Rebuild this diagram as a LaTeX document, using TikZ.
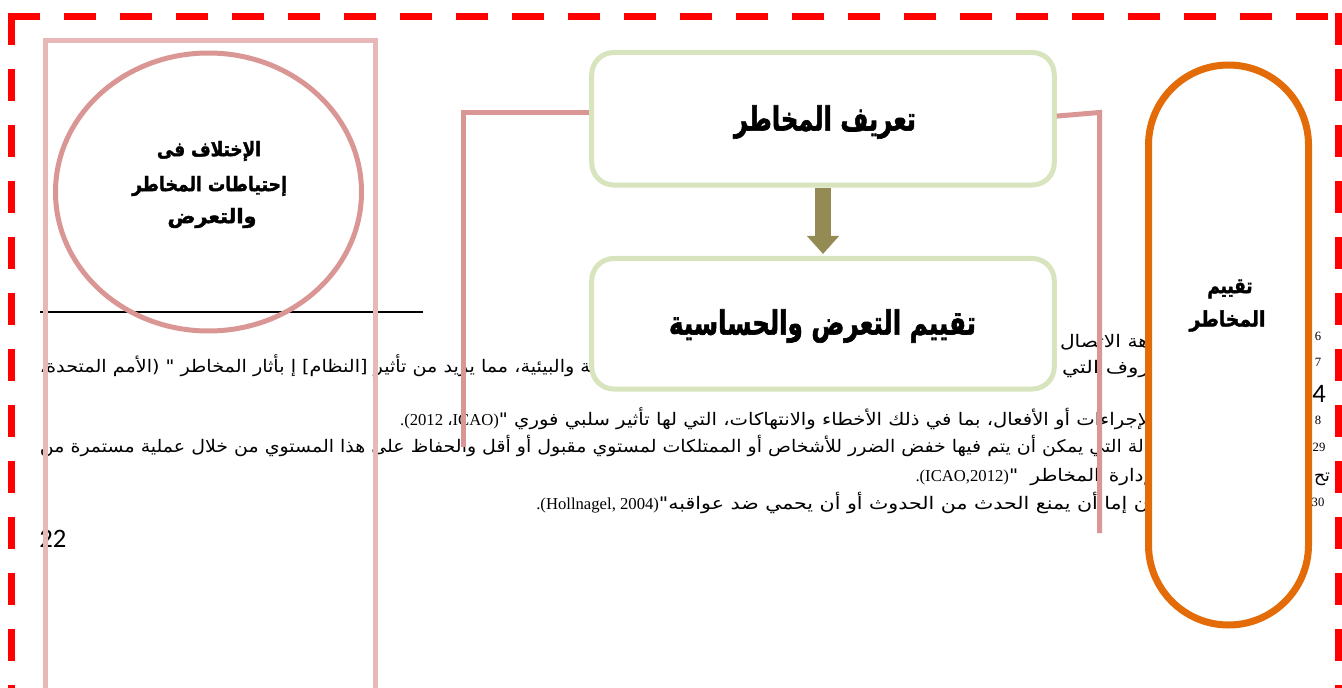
\documentclass[tikz,border=0pt]{standalone}
\usepackage{fontspec}
\usepackage{graphicx}
\usetikzlibrary{shapes.geometric,arrows.meta}
\TeXXeTstate=1
\newfontfamily\arabicfont[Script=Arabic]{DejaVu Sans}
\newfontfamily\arabicheavy[Script=Arabic,BoldFeatures={FakeBold=2}]{DejaVu Sans}
\newfontfamily\timesfont{Liberation Serif}
\newfontfamily\calibrifont{Carlito}
\newlength\pxu
\setlength\pxu{0.75pt}
% stretch or squeeze a box horizontally to a width given in pixels
\newcommand\fitw[2]{\resizebox{#1\pxu}{\height}{#2}}
\newcommand\rtl[1]{{\arabicfont\beginR #1\endR}}
\newcommand\rtlbold[1]{{\arabicheavy\bfseries\beginR #1\endR}}
\definecolor{frameRed}{HTML}{FF0000}
\definecolor{rosePale}{HTML}{E6B9B8}
\definecolor{roseLine}{HTML}{D99694}
\definecolor{sage}{HTML}{D7E4BD}
\definecolor{olive}{HTML}{948A54}
\definecolor{amber}{HTML}{E36C09}
\begin{document}
\begin{tikzpicture}[x=0.75pt,y=-0.75pt,
  bodytext/.style={inner sep=0pt,outer sep=0pt,font=\fontsize{13}{15}\selectfont},
  latintext/.style={inner sep=0pt,outer sep=0pt,font=\timesfont\fontsize{12.5}{14}\selectfont},
  notenum/.style={inner sep=0pt,font=\timesfont\fontsize{9.5}{11}\selectfont},
  pagenum/.style={inner sep=0pt,font=\calibrifont\fontsize{20}{22}\selectfont},
  stepbox/.style={draw=sage,line width=3.75pt,fill=white,rounded corners=16.5pt,
    minimum width=346.9pt,inner sep=0pt},
  boxtitle/.style={inner sep=0pt,font=\fontsize{25}{28}\selectfont},
  roundtitle/.style={inner sep=0pt,font=\fontsize{15}{17}\selectfont},
  link/.style={draw=roseLine,line width=3.75pt},
  dashframe/.style={draw=frameRed,line width=5.25pt,dash pattern=on 24pt off 18pt}
]
\useasboundingbox (0,0) rectangle (1342,688);

% ---- running text of the page ----
\node[bodytext,anchor=base east] (t1) at (1149,347) {\fitw{89}{\rtl{هة الاتصال}}};
\node[bodytext,anchor=base east] (t2a) at (1149,373) {\fitw{87}{\rtl{روف التي}}};
\node[bodytext,anchor=base east] (t2b) at (596,372)
  {\fitw{556}{\rtl{بة والبيئية، مما يزيد من تأثير [النظام] إ بأثار المخاطر " (الأمم المتحدة،}}};
\node[bodytext,anchor=base east] (t3a) at (1149,425)
  {\fitw{650}{\rtl{لإجراءات أو الأفعال، بما في ذلك الأخطاء والانتهاكات، التي لها تأثير سلبي فوري "}}};
\node[latintext,anchor=base east] (t3b) at (t3a.base west) {.(2012 {\arabicfont ،}ICAO)};
\node[bodytext,anchor=base east] (t4) at (1149,452)
  {\fitw{1109}{\rtl{الة التي يمكن أن يتم فيها خفض الضرر للأشخاص أو الممتلكات لمستوي مقبول أو أقل والحفاظ على هذا المستوي من خلال عملية مستمرة من}}};
\node[bodytext,anchor=base west] (t5a) at (1314,481) {\fitw{16}{\rtl{تح}}};
\node[bodytext,anchor=base east] (t5b) at (1149,481)
  {\fitw{140}{\rtl{إدارة\hspace{6pt}المخاطر\hspace{8pt}"}}};
\node[latintext,anchor=base east] (t5c) at (t5b.base west) {.(ICAO,2012)\hspace{3pt}};
\node[bodytext,anchor=base east] (t6a) at (1149,509)
  {\fitw{490}{\rtl{ن إما أن يمنع الحدث من الحدوث أو أن يحمي ضد عواقبه"}}};
\node[latintext,anchor=base east] (t6b) at (t6a.base west) {.(Hollnagel, 2004)\hspace{3pt}};

% footnote numbers and page numbers
\node[notenum] (n26) at (1318,336) {6};
\node[notenum] (n27) at (1318,362) {7};
\node[notenum] (n28) at (1318,420) {8};
\node[notenum] (n29) at (1319,447) {29};
\node[notenum] (n30) at (1318,502) {30};
\node[pagenum] (p4) at (1319,394) {4};
\node[pagenum,anchor=base west] (p22) at (39,547) {22};

% footnote separator rule
\coordinate (ruleL) at (40,312);
\coordinate (ruleR) at (423,312);
\draw[line width=1.5pt] (ruleL) -- (ruleR);

% pale column frame on the left
\draw[draw=rosePale,line width=3.75pt] (45.5,700) -- (45.5,40.5) -- (375.5,40.5) -- (375.5,700);

% ellipse with its label
\node[ellipse,draw=roseLine,line width=3.75pt,minimum width=229.5pt,minimum height=208.5pt,inner sep=0pt]
  (diff) at (208.5,192) {};
\node[roundtitle] (diff1) at (209,151) {\fitw{104}{\rtlbold{الإختلاف فى}}};
\node[roundtitle] (diff2) at (209.5,186) {\fitw{155}{\rtlbold{إحتياطات المخاطر}}};
\node[roundtitle] (diff3) at (212,218) {\fitw{89}{\rtlbold{والتعرض}}};

% the two step boxes
\node[stepbox,minimum height=99.4pt] (define) at (823,118.75) {};
\node[boxtitle] (defineT) at (825,122) {\fitw{182}{\rtlbold{تعريف المخاطر}}};
\node[stepbox,minimum height=97.9pt] (assess) at (823,323.75) {};
\node[boxtitle] (assessT) at (822.5,326) {\fitw{307}{\rtlbold{تقييم التعرض والحساسية}}};

% block arrow between the boxes
\draw[olive,line width=12pt,-{Triangle[width=23.25pt,length=13.5pt]},shorten >=1.5pt]
  (define.south) -- (assess.north);

% tall rounded box on the right
\node[draw=amber,line width=5.25pt,fill=white,rounded corners=60pt,minimum width=120pt,
  minimum height=420pt,inner sep=0pt] (risk) at (1228.5,345) {};
\node[roundtitle,font=\fontsize{16}{18}\selectfont] (risk1) at (1230,289) {\fitw{45}{\rtlbold{تقييم}}};
\node[roundtitle,font=\fontsize{16}{18}\selectfont] (risk2) at (1227.5,321) {\fitw{76}{\rtlbold{المخاطر}}};

% side links leaving the first box
\coordinate (lbend) at (463.5,113);
\coordinate (lend) at (463.5,447);
\coordinate (rbend) at (1099.5,112.5);
\coordinate (rend) at (1099.5,533);
\draw[link] (define.west |- lbend) -- (lbend) -- (lend);
\draw[link] ([yshift=2pt]define.east) -- (rbend) -- (rend);

% dashed red frame
\draw[dashframe] (7.5,16.5) -- (1342,16.5);
\draw[dashframe] (11,13) -- (11,700);
\draw[dashframe] (1338.5,13) -- (1338.5,700);
\end{tikzpicture}
\end{document}
